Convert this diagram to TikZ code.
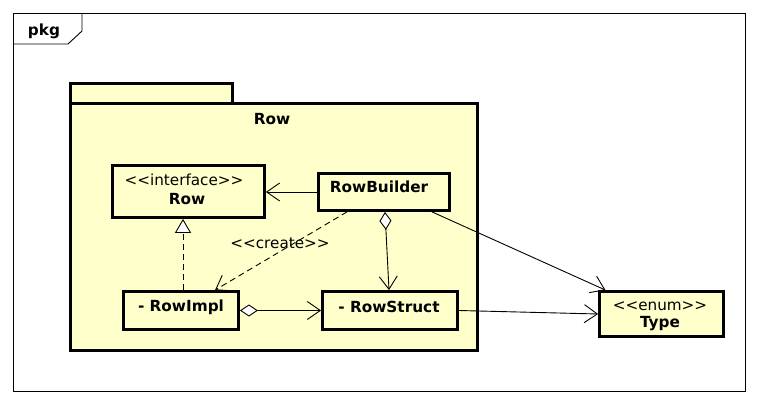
\documentclass[tikz,border=0pt]{standalone}
\usepackage{fontspec}
\newfontfamily\dv{DejaVu Sans}
\usetikzlibrary{arrows.meta}
\definecolor{clsfill}{HTML}{FFFFCC}
\begin{document}
\begin{tikzpicture}[x=1pt,y=-1pt,
  cls/.style={draw, line width=2.8pt, fill=clsfill, inner sep=0pt},
  nm/.style={font=\dv\fontsize{15.3}{18}\selectfont\bfseries, inner sep=0pt},
  st/.style={font=\dv\fontsize{15.2}{18}\selectfont, inner sep=0pt},
  conn/.style={line width=0.9pt},
  openarr/.style={-{Straight Barb[length=13pt,width=18pt,line width=0.9pt]}},
  dia/.style={{Diamond[fill=white,length=18pt,width=12pt,line width=0.9pt]}-{Straight Barb[length=13pt,width=18pt,line width=0.9pt]}},
  real/.style={-{Triangle[fill=white,length=14pt,width=16pt,line width=0.9pt]}},
  dsh/.style={dash pattern=on 6pt off 4pt}
]
\useasboundingbox (0,0) rectangle (758,404);
% frame
\draw[line width=0.9pt] (13,13) rectangle (745,391);
\draw[line width=0.9pt] (13,44) -- (68,44) -- (82,31) -- (82,13);
\node[nm] (pkgl) at (44,31) {pkg};
% package
\node[cls, minimum width=162, minimum height=20] (tab) at (151.5,93.5) {};
\node[cls, minimum width=407, minimum height=247] (pkg) at (274,227) {};
\node[nm] (pkgname) at (272,119) {Row};
% classes
\node[cls, minimum width=152, minimum height=52] (row) at (188.5,191.5) {};
\node[st] (rowst) at (184,180) {<<interface>>};
\node[nm] (rownm) at (187,199) {Row};
\node[cls, minimum width=131, minimum height=37] (rb) at (384,192) {};
\node[nm] (rbnm) at (379,187) {RowBuilder};
\node[cls, minimum width=115, minimum height=38] (ri) at (181,310.5) {};
\node[nm] (rinm) at (181,307) {- RowImpl};
\node[cls, minimum width=135, minimum height=38] (rs) at (390,310.5) {};
\node[nm] (rsnm) at (389,307) {- RowStruct};
\node[cls, minimum width=124, minimum height=45] (ty) at (661.5,314) {};
\node[st] (tyst) at (660,306) {<<enum>>};
\node[nm] (tynm) at (660,324) {Type};
% connectors
\draw[conn, openarr] (rb.west) -- (rb.west -| row.east);
\draw[conn, dsh, real] ([xshift=2pt]ri.north) -- ([xshift=2pt]ri.north |- row.south);
\draw[conn, dsh, openarr] ([xshift=-37pt]rb.south) -- ([xshift=34pt]ri.north);
\node[st] (crl) at (280,243) {<<create>>};
\draw[conn, dia] ([xshift=1pt]rb.south) -- ([xshift=-1pt]rs.north);
\draw[conn, dia] (ri.east) -- (rs.west);
\draw[conn, openarr] ([xshift=48pt]rb.south) -- ([xshift=-56pt]ty.north);
\draw[conn, openarr] (rs.east) -- (ty.west);
\end{tikzpicture}
\end{document}
